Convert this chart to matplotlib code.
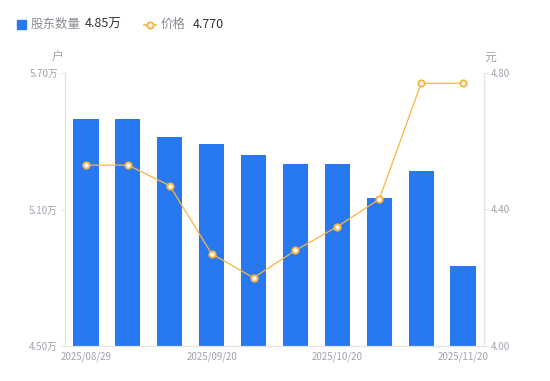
import numpy as np
import matplotlib.pyplot as plt

plt.rcParams['font.family'] = ['Noto Sans CJK SC', 'DejaVu Sans']

dates = ['2025/08/29', '2025/09/05', '2025/09/12', '2025/09/20', '2025/09/30',
         '2025/10/10', '2025/10/20', '2025/10/31', '2025/11/10', '2025/11/20']
holders = [5.50, 5.50, 5.42, 5.39, 5.34, 5.30, 5.30, 5.15, 5.27, 4.85]  # 万户
price = [4.53, 4.53, 4.47, 4.27, 4.20, 4.28, 4.35, 4.43, 4.77, 4.77]

bar_color = '#2878f2'
line_color = '#f8b540'
grey = '#a0a3ad'
axis_grey = '#e3e3e6'

fig = plt.figure(figsize=(5.5, 3.81), dpi=100)
ax = fig.add_axes([65 / 550, 1 - 346 / 381, 419 / 550, 273 / 381])
ax2 = ax.twinx()

x = np.arange(len(dates))
ax.bar(x, holders, width=0.6, color=bar_color, zorder=2)
ax.set_xlim(-0.5, len(dates) - 0.5)
ax.set_ylim(4.5, 5.7)
ax.set_yticks([4.5, 5.1, 5.7])
ax.set_yticklabels(['4.50万', '5.10万', '5.70万'])

ax2.plot(x, price, color=line_color, lw=0.9, marker='o', ms=4.5,
         mfc='white', mec=line_color, mew=1.4, zorder=3)
ax2.set_ylim(4.0, 4.8)
ax2.set_yticks([4.0, 4.4, 4.8])
ax2.set_yticklabels(['4.00', '4.40', '4.80'])

ax.set_xticks([0, 3, 6, 9])
ax.set_xticklabels([dates[i] for i in [0, 3, 6, 9]])

for a in (ax, ax2):
    for s in a.spines.values():
        s.set_color(axis_grey)
        s.set_linewidth(0.8)
    a.spines['top'].set_visible(False)
    a.tick_params(colors=grey, labelsize=7, length=3, width=0.8, color=axis_grey)
ax.tick_params(axis='x', length=0, pad=4)
ax.tick_params(axis='y', pad=2)
ax2.tick_params(axis='y', pad=2)

fig.text(58 / 550, 1 - 57 / 381, '户', color=grey, fontsize=8.5, ha='center', va='center')
fig.text(490 / 550, 1 - 57 / 381, '元', color=grey, fontsize=8.5, ha='center', va='center')

# legend
fig.patches.append(plt.Rectangle((17 / 550, 1 - 29 / 381), 9 / 550, 9 / 381,
                                 transform=fig.transFigure, color=bar_color, figure=fig))
fig.text(31 / 550, 1 - 24.5 / 381, '股东数量', color='#8a8d97', fontsize=9, va='center')
fig.text(85 / 550, 1 - 24.5 / 381, '4.85万', color='#333333', fontsize=9, va='center')
fig.lines.append(plt.Line2D([144 / 550, 156 / 550], [1 - 24.5 / 381] * 2, transform=fig.transFigure,
                            color=line_color, lw=1.2, figure=fig))
fig.lines.append(plt.Line2D([150 / 550], [1 - 24.5 / 381], transform=fig.transFigure, color=line_color,
                            marker='o', ms=4.5, mfc='white', mec=line_color, mew=1.4, figure=fig))
fig.text(161 / 550, 1 - 24.5 / 381, '价格', color='#8a8d97', fontsize=9, va='center')
fig.text(193 / 550, 1 - 24.5 / 381, '4.770', color='#333333', fontsize=9, va='center')

fig.savefig('out.png', dpi=100)
